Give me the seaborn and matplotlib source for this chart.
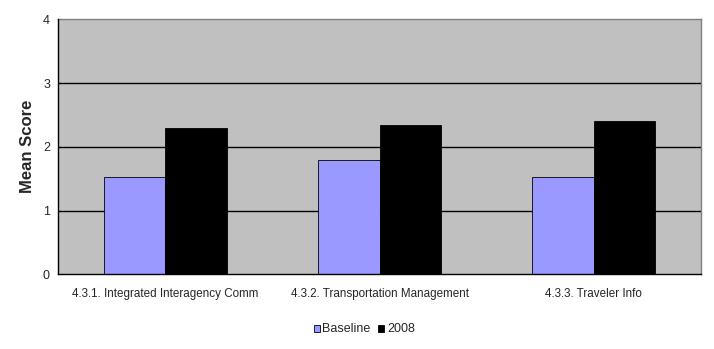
import matplotlib
matplotlib.use("Agg")
import matplotlib.pyplot as plt
import seaborn as sns
import pandas as pd
from matplotlib.patches import Patch

categories = ["4.3.1. Integrated Interagency Comm",
              "4.3.2. Transportation Management",
              "4.3.3. Traveler Info"]
series_names = ["Baseline", "2008"]
baseline = [1.52, 1.80, 1.52]
y2008 = [2.30, 2.34, 2.40]
yticks = [0, 1, 2, 3, 4]

colors = {"Baseline": "#9999FF", "2008": "#000000"}

rows = []
for c, b, v in zip(categories, baseline, y2008):
    rows.append({"cat": c, "series": "Baseline", "val": b})
    rows.append({"cat": c, "series": "2008", "val": v})
df = pd.DataFrame(rows)

sns.set_style("white")
plt.rcParams['font.family'] = ['Liberation Sans', 'DejaVu Sans']

fig = plt.figure(figsize=(7.14, 3.49), dpi=100)
ax = fig.add_axes([58.3/714, 1-274.3/349, (700.7-58.3)/714, (274.3-19.3)/349])
ax.set_facecolor("#C0C0C0")

sns.barplot(data=df, x="cat", y="val", hue="series", order=categories,
            hue_order=series_names, palette=colors, width=0.573, gap=0,
            edgecolor="black", linewidth=0.6, saturation=1, ax=ax,
            legend=False, zorder=3)

ax.set_ylim(0, 4)
ax.set_yticks(yticks)
ax.set_yticklabels([str(t) for t in yticks], fontsize=9)
ax.set_xlim(-0.5, len(categories) - 0.5)
ax.set_xticks(range(len(categories)))
ax.set_xticklabels(categories, fontsize=8.4)
ax.tick_params(axis="x", length=0, pad=10)
ax.set_xticks([i - 0.5 for i in range(len(categories) + 1)], minor=True)
ax.tick_params(axis="x", which="minor", length=4, direction="out", color="black", width=0.8)
ax.tick_params(axis="y", length=4, direction="out", color="black", width=0.8, pad=2)

for t in yticks[1:-1]:
    ax.axhline(t, color="black", linewidth=1, zorder=1)

ax.set_xlabel("")
ax.set_ylabel("Mean Score", fontsize=12, fontweight="bold", labelpad=6)

for s in ["top", "right"]:
    ax.spines[s].set_color("#808080")
    ax.spines[s].set_linewidth(1)
for s in ["left", "bottom"]:
    ax.spines[s].set_color("black")
    ax.spines[s].set_linewidth(1)
    ax.spines[s].set_zorder(5)

handles = [Patch(facecolor=colors[s], edgecolor="black", linewidth=0.6, label=s)
           for s in series_names]
fig.legend(handles=handles, loc="center", bbox_to_anchor=(0.51, 1-329.5/349),
           ncol=2, frameon=False, fontsize=9, handlelength=0.5, handleheight=0.5,
           handletextpad=0.2, columnspacing=0.6)

fig.savefig("out.png", dpi=100, facecolor="white")
